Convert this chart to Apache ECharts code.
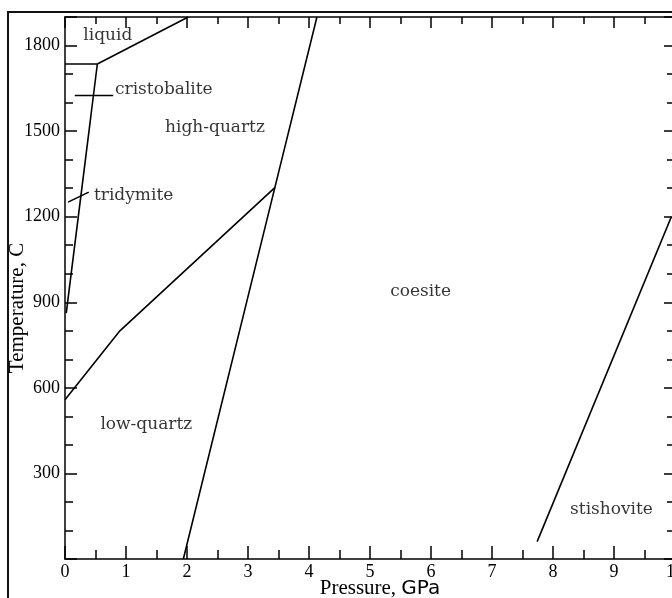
<!DOCTYPE html>
<html>
<head>
<meta charset="utf-8">
<script src="https://cdn.jsdelivr.net/npm/echarts@6/dist/echarts.min.js"></script>
<style>html,body{margin:0;padding:0;background:#fff;}#chart{width:672px;height:598px;}</style>
</head>
<body>
<div id="chart"></div>
<script>
// ---- data (pressure GPa, temperature C) ----
const meltFlatLine = [[0, 1735], [0.53, 1735]];
const liquidBoundary = [[0.53, 1735], [2.02, 1900]];
const cristobaliteBoundary = [[0.53, 1735], [0.02, 862]];
const cristobaliteLeader = [[0.16, 1625], [0.79, 1625]];
const tridymiteLeader = [[0.05, 1251], [0.39, 1286]];
const lowHighQuartz = [[0, 558], [0.9, 800], [3.44, 1302]];
const quartzCoesite = [[1.94, 0], [3.44, 1302], [4.13, 1900]];
const coesiteStishovite = [[7.74, 61], [9.94, 1200]];

const phaseNames = ['liquid', 'cristobalite', 'high-quartz', 'tridymite', 'coesite', 'low-quartz', 'stishovite'];
const phaseLabelP = [0.30, 0.82, 1.64, 0.475, 5.33, 0.58, 8.28];
const phaseLabelT = [1835, 1646, 1513, 1275, 936, 470, 173];

const pressureRange = [0, 10];
const temperatureRange = [0, 1900];

const serif = 'Liberation Serif';
const labelFont = 'DejaVu Serif';

const boundaries = [meltFlatLine, liquidBoundary, cristobaliteBoundary, cristobaliteLeader,
  tridymiteLeader, lowHighQuartz, quartzCoesite, coesiteStishovite];

const chart = echarts.init(document.getElementById('chart'), null, {renderer: 'canvas'});

const axisLineStyle = {show: true, onZero: false, lineStyle: {color: '#000', width: 1.5}};
const plain = function (v) { return String(v); };

const option = {
  animation: false,
  backgroundColor: '#fff',
  graphic: [{
    type: 'rect', z: -10, silent: true,
    shape: {x: 8, y: 12, width: 720, height: 720},
    style: {fill: null, stroke: '#111', lineWidth: 2}
  }],
  grid: {left: 65, top: 17, right: -3, bottom: 39, containLabel: false, outerBoundsMode: 'none'},
  xAxis: [{
    type: 'value', position: 'bottom',
    min: pressureRange[0], max: pressureRange[1], interval: 1,
    axisLine: axisLineStyle, splitLine: {show: false},
    axisTick: {show: true, inside: true, length: 13, lineStyle: {color: '#000', width: 1.5}},
    minorTick: {show: true, splitNumber: 2, length: 9, lineStyle: {color: '#000', width: 1.5}},
    axisLabel: {show: true, margin: 4, color: '#000', fontFamily: serif, fontSize: 18, formatter: plain},
    name: '{a|Pressure, }{b|GPa}', nameLocation: 'middle', nameGap: 19, nameMoveOverlap: false,
    nameTextStyle: {
      padding: [0, 0, 0, 20],
      rich: {
        a: {fontFamily: serif, fontSize: 21, color: '#000'},
        b: {fontFamily: 'DejaVu Sans', fontSize: 20, color: '#000'}
      }
    }
  }, {
    type: 'value', position: 'top',
    min: pressureRange[0], max: pressureRange[1], interval: 1,
    axisLine: axisLineStyle, splitLine: {show: false},
    axisTick: {show: true, inside: true, length: 11, lineStyle: {color: '#000', width: 1.5}},
    minorTick: {show: true, splitNumber: 2, length: 7, lineStyle: {color: '#000', width: 1.5}},
    axisLabel: {show: false}
  }],
  yAxis: [{
    type: 'value', position: 'left',
    min: temperatureRange[0], max: temperatureRange[1], interval: 300,
    axisLine: axisLineStyle, splitLine: {show: false},
    axisTick: {show: true, inside: true, length: 12, lineStyle: {color: '#000', width: 1.5}},
    minorTick: {show: true, splitNumber: 3, length: 8, lineStyle: {color: '#000', width: 1.5}},
    axisLabel: {show: true, margin: 5, color: '#000', fontFamily: serif, fontSize: 18,
      showMinLabel: false, showMaxLabel: false, formatter: plain},
    name: 'Temperature, C', nameLocation: 'middle', nameGap: 37, nameRotate: 90, nameMoveOverlap: false,
    nameTextStyle: {fontFamily: serif, fontSize: 21, color: '#000', padding: [0, 40, 0, 0]}
  }, {
    type: 'value', position: 'right',
    min: temperatureRange[0], max: temperatureRange[1], interval: 300,
    axisLine: axisLineStyle, splitLine: {show: false},
    axisTick: {show: true, inside: true, length: 11, lineStyle: {color: '#000', width: 1.5}},
    minorTick: {show: true, splitNumber: 3, length: 8, lineStyle: {color: '#000', width: 1.5}},
    axisLabel: {show: false}
  }],
  series: boundaries.map(function (d) {
    return {
      type: 'line', xAxisIndex: 0, yAxisIndex: 0,
      data: d, showSymbol: false, symbol: 'none', clip: true,
      lineStyle: {color: '#000', width: 1.6}, silent: true
    };
  }).concat([{
    type: 'scatter', xAxisIndex: 0, yAxisIndex: 0,
    symbolSize: 0, silent: true,
    data: phaseNames.map(function (n, i) { return {name: n, value: [phaseLabelP[i], phaseLabelT[i]]}; }),
    label: {
      show: true, position: 'inside', align: 'left', verticalAlign: 'middle',
      formatter: function (p) { return p.name; },
      color: '#000', fontFamily: labelFont, fontSize: 17
    }
  }])
};
chart.setOption(option);
</script>
</body>
</html>
